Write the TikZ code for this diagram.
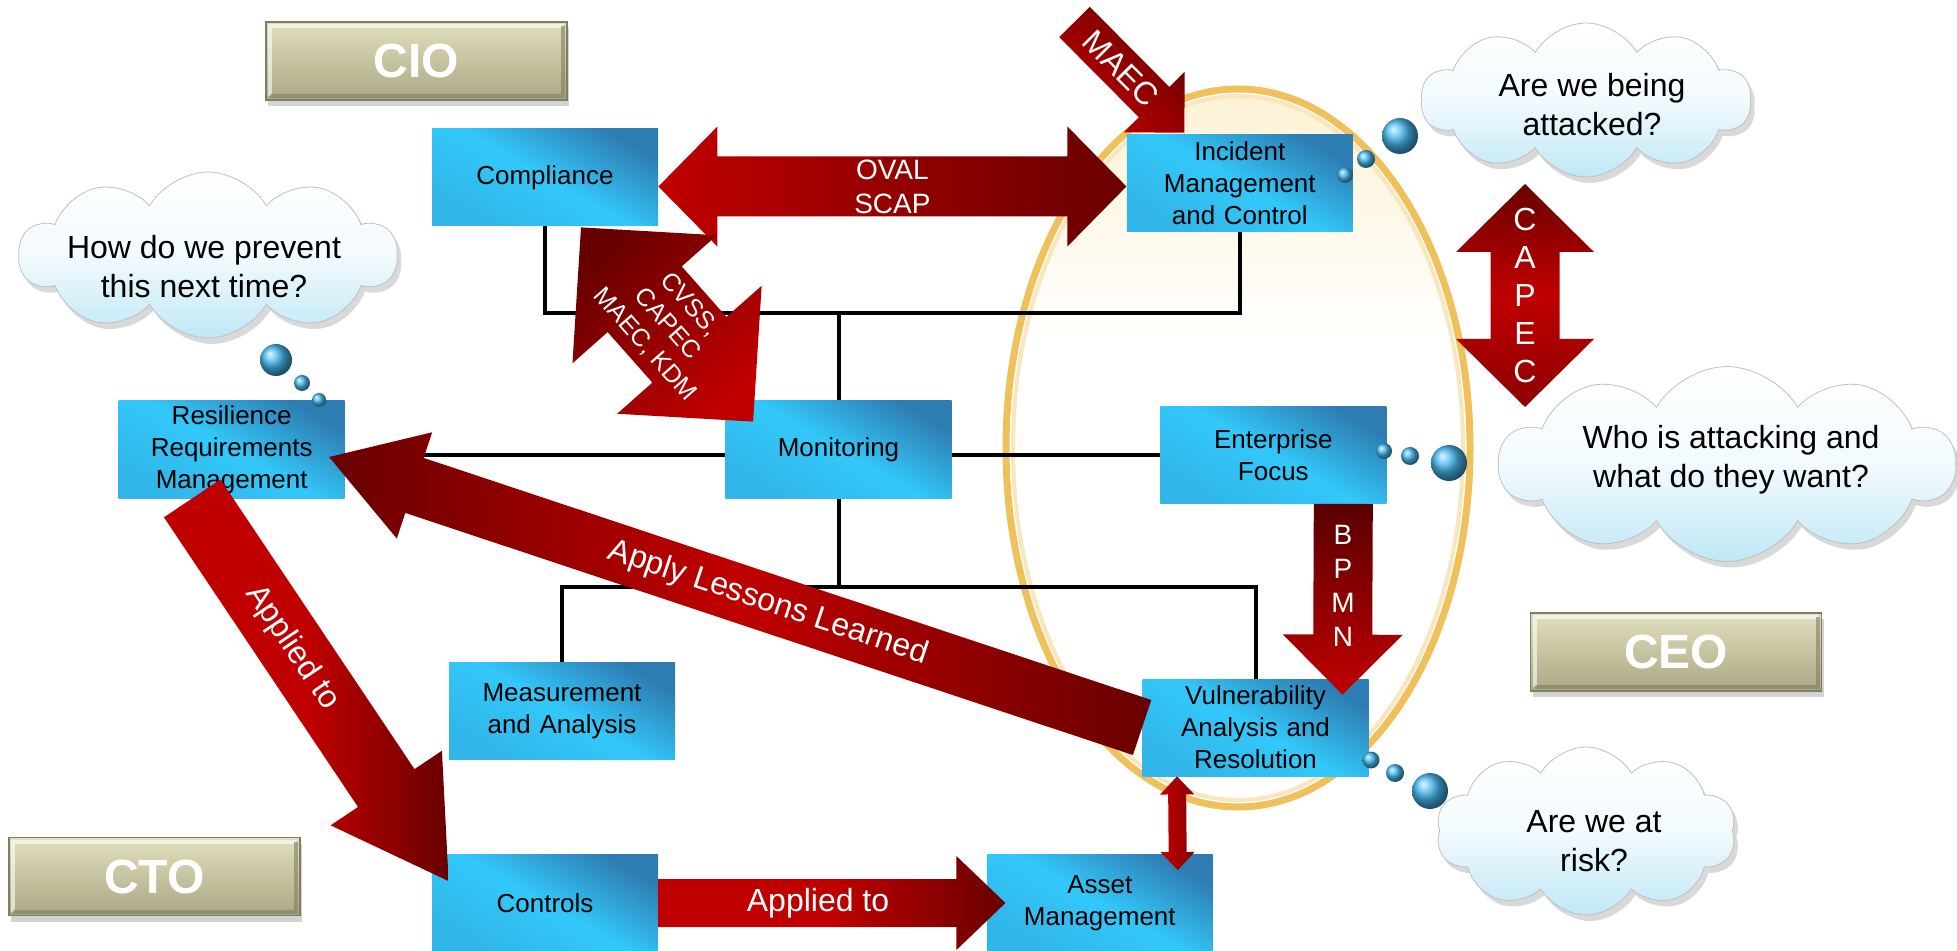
\documentclass[tikz,border=0pt]{standalone}
\usepackage{fontspec}
\setmainfont{Liberation Sans}
\usetikzlibrary{shapes.symbols, shadows, calc, positioning, backgrounds}

\definecolor{boxlight}{RGB}{51,200,250}
\definecolor{boxdark}{RGB}{46,125,178}
\definecolor{khakitop}{RGB}{226,223,190}
\definecolor{khakibot}{RGB}{170,167,132}
\definecolor{khakiedge}{RGB}{128,126,98}
\definecolor{cloudblue}{RGB}{192,232,246}
\definecolor{arrowred}{RGB}{192,0,0}
\definecolor{arrowdark}{RGB}{105,0,0}
\definecolor{ovalgold}{RGB}{240,192,90}
\definecolor{ovalcream}{RGB}{253,242,212}
\definecolor{bubbleblue}{RGB}{70,185,240}

\tikzstyle{block} = [rectangle, shading=axis, top color=boxdark, bottom color=boxlight!75!boxdark,
  middle color=boxlight, shading angle=-30, minimum width=113pt, minimum height=48.5pt,
  text width=105pt, align=center, inner sep=0pt, font=\fontsize{13}{16}\selectfont]
\tikzstyle{role} = [rectangle, top color=khakitop, bottom color=khakibot, draw=khakiedge,
  line width=0.8pt, minimum width=145.5pt, minimum height=39pt, text=white,
  font=\bfseries\fontsize{24}{28}\selectfont,
  drop shadow={shadow xshift=1pt, shadow yshift=-3pt, opacity=0.35},
  path picture={
    \draw [white, opacity=0.6, line width=2pt]
      ([shift={(2pt,2pt)}]path picture bounding box.south west) |-
      ([shift={(-2pt,-2pt)}]path picture bounding box.north east);
    \draw [khakiedge, opacity=0.6, line width=2pt]
      ([shift={(2pt,2pt)}]path picture bounding box.south west) -|
      ([shift={(-2pt,-2pt)}]path picture bounding box.north east);}]
\tikzstyle{thought} = [cloud, cloud puffs=10, cloud puff arc=120, aspect=2.2,
  top color=white, bottom color=cloudblue, middle color=white!80!cloudblue,
  draw=black!25, inner sep=0pt,
  drop shadow={shadow xshift=2pt, shadow yshift=-3pt, opacity=0.3}]
\tikzstyle{thoughttext} = [align=center, inner sep=0pt, font=\fontsize{16}{19.5}\selectfont]
\tikzstyle{bubble} = [circle, ball color=bubbleblue, inner sep=0pt]
\tikzstyle{wire} = [draw, line width=2pt, black]
\tikzstyle{arrowtext} = [text=white, inner sep=0pt, font=\fontsize{16}{19}\selectfont]

% block arrow: [shading]{name}{tail}{tip}{shaft half width}{head half width}{head length}
\newcommand{\fatarrow}[7][]{%
  \coordinate (#2-a) at (#3);
  \coordinate (#2-b) at (#4);
  \coordinate (#2-h) at ($(#2-b)!#7!(#2-a)$);
  \shade[#1] ($(#2-a)!#5!90:(#2-b)$) -- ($(#2-h)!#5!-90:(#2-a)$) -- ($(#2-h)!#6!-90:(#2-a)$)
    -- (#2-b) -- ($(#2-h)!#6!90:(#2-a)$) -- ($(#2-h)!#5!90:(#2-a)$)
    -- ($(#2-a)!#5!-90:(#2-b)$) -- cycle;
}
% same with a head at both ends
\newcommand{\dblarrow}[7][]{%
  \coordinate (#2-a) at (#3);
  \coordinate (#2-b) at (#4);
  \coordinate (#2-ha) at ($(#2-a)!#7!(#2-b)$);
  \coordinate (#2-hb) at ($(#2-b)!#7!(#2-a)$);
  \shade[#1] (#2-a) -- ($(#2-ha)!#6!90:(#2-b)$) -- ($(#2-ha)!#5!90:(#2-b)$)
    -- ($(#2-hb)!#5!-90:(#2-a)$) -- ($(#2-hb)!#6!-90:(#2-a)$) -- (#2-b)
    -- ($(#2-hb)!#6!90:(#2-a)$) -- ($(#2-hb)!#5!90:(#2-a)$)
    -- ($(#2-ha)!#5!-90:(#2-b)$) -- ($(#2-ha)!#6!-90:(#2-b)$) -- cycle;
}

\begin{document}
\begin{tikzpicture}[x=0.5pt, y=-0.5pt]
  \useasboundingbox (0,0) rectangle (1957,951);

  % process boxes
  \node [block] (compliance) at (545,177.5) {Compliance};
  \node [block, right=234pt of compliance, yshift=-3pt] (incident) {Incident\\Management\\and Control};
  \node [block] (monitoring) at (838.5,449.5) {Monitoring};
  \node [block, left=190pt of monitoring] (resilience) {Resilience\\Requirements\\Management};
  \node [block, right=104pt of monitoring, yshift=-2.75pt] (enterprise) {Enterprise\\Focus};
  \node [block] (measurement) at (562,711) {Measurement\\and Analysis};
  \node [block] (vulnerability) at (1255.5,727.5) {Vulnerability\\Analysis and\\Resolution};
  \node [block] (controls) at (545,903) {Controls};
  \node [block, right=164pt of controls] (asset) {Asset\\Management};

  % roles
  \node [role, minimum width=150.5pt] (cio) at (416.5,61) {CIO};
  \node [role] (cto) at (154.5,876.5) {CTO};
  \node [role] (ceo) at (1676,652) {CEO};

  % thoughts
  \node [thought, minimum width=189pt, minimum height=83pt] (prevent) at (208,255) {};
  \node [thoughttext] (prevent-txt) at ($(prevent)+(-4,12)$) {How do we prevent\\this next time?};
  \node [thought, minimum width=165pt, minimum height=77pt] (attacked) at (1586,100) {};
  \node [thoughttext] (attacked-txt) at ($(attacked)+(6,5)$) {Are we being\\attacked?};
  \node [thought, minimum width=228pt, minimum height=97.5pt] (attackers) at (1727,464) {};
  \node [thoughttext] (attackers-txt) at ($(attackers)+(4,-4)$) {Who is attacking and\\what do they want?};
  \node [thought, minimum width=150pt, minimum height=84pt] (risk) at (1586,831) {};
  \node [thoughttext] (risk-txt) at ($(risk)+(8,10)$) {Are we at\\risk?};

  \node [bubble, minimum size=16pt] (pb1) at (276,360) {};
  \node [bubble, minimum size=8pt] (pb2) at (302,383) {};
  \node [bubble, minimum size=7pt] (pb3) at (319,400) {};
  \node [bubble, minimum size=18pt] (ab1) at (1400,136) {};
  \node [bubble, minimum size=9pt] (ab2) at (1366,159) {};
  \node [bubble, minimum size=8pt] (ab3) at (1345,175) {};
  \node [bubble, minimum size=8pt] (eb1) at (1384,451) {};
  \node [bubble, minimum size=9pt] (eb2) at (1410,456) {};
  \node [bubble, minimum size=18pt] (eb3) at (1449,463) {};
  \node [bubble, minimum size=8.5pt] (rb1) at (1371,760) {};
  \node [bubble, minimum size=9pt] (rb2) at (1395,773) {};
  \node [bubble, minimum size=18pt] (rb3) at (1430,791) {};

  \begin{pgfonlayer}{background}
    % focus oval
    \begin{scope}
      \clip (1238,448) ellipse [x radius=113pt, y radius=177pt];
      \shade [top color=ovalcream, bottom color=white] (1000,92) rectangle (1480,345);
    \end{scope}
    \draw [ovalgold, line width=3.5pt] (1238,448) ellipse [x radius=116pt, y radius=179.5pt];
    \draw [ovalgold!40!white, line width=2pt] (1238,448) ellipse [x radius=112.5pt, y radius=176pt];

    % wiring
    \coordinate (topbus) at ($(monitoring.north)+(0,-88)$);
    \coordinate (botbus) at ($(monitoring.south)+(0,89)$);
    \draw [wire] (compliance.south) |- (topbus) -| (incident.south);
    \draw [wire] (monitoring.north) -- (topbus);
    \draw [wire] (resilience.east |- enterprise.west) -- (enterprise.west);
    \draw [wire] (monitoring.south) -- (botbus);
    \draw [wire] (measurement.north) |- (botbus) -| (vulnerability.north);
  \end{pgfonlayer}

  % standards arrows
  \dblarrow[left color=arrowred, right color=arrowdark]{oval}{$(compliance.east)+(0,9)$}{$(incident.west)+(0,3)$}{15pt}{30pt}{29.5pt}
  \path (oval-a) -- (oval-b) node [midway, arrowtext, align=center, font=\fontsize{14}{17}\selectfont] (oval-lbl) {OVAL\\SCAP};

  \dblarrow[top color=arrowdark, bottom color=arrowred, shading angle=45]{cvss}{$(compliance.south)+(36,1)$}{$(monitoring.north west)+(28,21)$}{24.75pt}{48.25pt}{48pt}
  \path (cvss-a) -- (cvss-b) node [midway, sloped, arrowtext, align=center, font=\fontsize{12.5}{15}\selectfont] (cvss-lbl) {CVSS,\\CAPEC\\MAEC, KDM};

  \coordinate (maec-src) at (1074.5,22);
  \fatarrow[top color=arrowdark, bottom color=arrowred, shading angle=-45]{maec}{maec-src}{$(incident.north west)+(58,-2)$}{10.75pt}{21.5pt}{21.5pt}
  \path (maec-a) -- (maec-b) node [pos=0.42, sloped, arrowtext] (maec-lbl) {MAEC};

  \coordinate (capec-top) at (1525,184);
  \coordinate (capec-bot) at (1525,407);
  \dblarrow[top color=arrowdark, bottom color=arrowdark!60!arrowred, middle color=arrowred]{capec}{capec-top}{capec-bot}{17.25pt}{34.5pt}{34pt}
  \node [arrowtext, align=center] (capec-lbl) at ($(capec-a)!0.5!(capec-b)$) {C\\A\\P\\E\\C};

  \fatarrow[top color=arrowdark!85!black, bottom color=arrowred]{bpmn}{$(enterprise.south)+(70,0)$}{$(vulnerability.north)+(87,16)$}{14.75pt}{30pt}{30pt}
  \path (bpmn-a) -- (bpmn-b) node [pos=0.43, arrowtext, align=center, font=\fontsize{14}{17}\selectfont] (bpmn-lbl) {B\\P\\M\\N};

  \dblarrow[left color=arrowred, right color=arrowdark!60!arrowred]{link}{$(vulnerability.south)+(-78.5,0)$}{$(asset.north)+(78,16)$}{4.5pt}{8.5pt}{9pt}

  % feedback and application
  \fatarrow[left color=arrowdark, right color=arrowdark, middle color=arrowred]{lessons}{vulnerability.west}{$(resilience.east)+(-16,7.5)$}{14.5pt}{28pt}{45pt}
  \path (lessons-a) -- (lessons-b) node [pos=0.46, sloped, arrowtext] (lessons-lbl) {Apply Lessons Learned};

  \fatarrow[left color=arrowred, right color=arrowdark, middle color=arrowred]{applied}{$(resilience.south)+(-39.5,0)$}{$(controls.north west)+(17,27)$}{17pt}{33.5pt}{56pt}
  \path (applied-a) -- (applied-b) node [pos=0.39, sloped, arrowtext] (applied-lbl) {Applied to};

  \fatarrow[left color=arrowred, right color=arrowdark, middle color=arrowred]{applyasset}{controls.east}{$(asset.west)+(19,0)$}{12pt}{23.5pt}{24.5pt}
  \path (applyasset-a) -- (applyasset-b) node [pos=0.46, arrowtext] (applyasset-lbl) {Applied to};

\end{tikzpicture}
\end{document}
